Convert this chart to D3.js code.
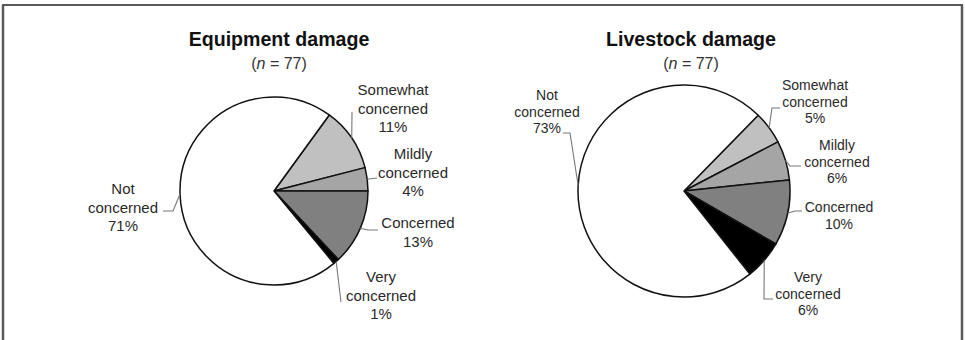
<!DOCTYPE html>
<html>
<head>
<meta charset="utf-8">
<script src="https://cdn.jsdelivr.net/npm/d3@7"></script>
<style>
  html, body { margin: 0; padding: 0; background: #fff; }
  svg { display: block; }
  text { font-family: "Liberation Sans", Arial, sans-serif; }
</style>
</head>
<body>
<svg id="chart" width="965" height="340"></svg>
<script>
// Concern levels, in clockwise drawing order
const categories = ["Somewhat concerned", "Mildly concerned", "Concerned", "Very concerned", "Not concerned"];
const labelLines = [["Somewhat", "concerned"], ["Mildly", "concerned"], ["Concerned"], ["Very", "concerned"], ["Not", "concerned"]];

// Percent of respondents per concern level
const equipmentValues = [11, 4, 13, 1, 71];
const livestockValues = [5, 6, 10, 6, 73];

const chartTitles = ["Equipment damage", "Livestock damage"];
const sampleSizes = [77, 77];

const fills = d3.scaleOrdinal()
  .domain(categories)
  .range(["#c0c0c0", "#a5a5a5", "#808080", "#000000", "#ffffff"]);

// Layout for each panel: centre, radius, rotation and label placement (offsets from the centre)
const panels = [
  {
    values: equipmentValues, cx: 274, cy: 191, r: 94, rotate: 36, font: 15, lh: 18.5,
    titleX: 279,
    labels: [
      { x: 119, y: -96, path: [[78, -79]] },
      { x: 139, y: -32, path: [[103, -13]] },
      { x: 144, y: 37, path: [[94, 39], [104, 39]] },
      { x: 107, y: 91, path: [[67, 111]] },
      { x: -151, y: 3, path: [[-101, 20], [-111, 20]] }
    ]
  },
  {
    values: livestockValues, cx: 684, cy: 191, r: 106, rotate: 44.4, font: 14, lh: 16.6,
    titleX: 691,
    labels: [
      { x: 131, y: -101, path: [[88, -83], [96, -83]] },
      { x: 153, y: -41, path: [[106, -25], [117, -25]] },
      { x: 155, y: 21, path: [[111, 20], [118, 20]] },
      { x: 124, y: 91, path: [[80, 108], [89, 108]] },
      { x: -137, y: -91, path: [[-114, -58], [-121, -58]] }
    ]
  }
];

const svg = d3.select("#chart");

// Frame
svg.append("line").attr("x1", 2).attr("x2", 963).attr("y1", 5).attr("y2", 5)
  .attr("stroke", "#222").attr("stroke-width", 1.5);
svg.append("line").attr("x1", 3).attr("x2", 3).attr("y1", 5).attr("y2", 340)
  .attr("stroke", "#5a5a5a").attr("stroke-width", 2.5);
svg.append("line").attr("x1", 962).attr("x2", 962).attr("y1", 5).attr("y2", 340)
  .attr("stroke", "#5a5a5a").attr("stroke-width", 2.5);

panels.forEach((p, i) => {
  const g = svg.append("g");

  // Titles
  g.append("text")
    .attr("x", p.titleX).attr("y", 46)
    .attr("text-anchor", "middle")
    .attr("font-size", 19.6).attr("font-weight", "bold").attr("fill", "#111")
    .text(chartTitles[i]);
  const sub = g.append("text")
    .attr("x", p.titleX).attr("y", 69)
    .attr("text-anchor", "middle")
    .attr("font-size", 16).attr("fill", "#333");
  sub.append("tspan").text("(");
  sub.append("tspan").attr("font-style", "italic").text("n");
  sub.append("tspan").text(" = " + sampleSizes[i] + ")");

  const rot = p.rotate * Math.PI / 180;
  const pie = d3.pie().sort(null).value(d => d.value)
    .startAngle(rot).endAngle(rot + 2 * Math.PI);
  const data = categories.map((c, k) => ({ cat: c, value: p.values[k], k }));
  const arcs = pie(data);
  const arc = d3.arc().innerRadius(0).outerRadius(p.r);

  const pg = g.append("g").attr("transform", `translate(${p.cx},${p.cy})`);

  pg.selectAll("path.slice").data(arcs).join("path")
    .attr("class", "slice")
    .attr("d", arc)
    .attr("fill", d => fills(d.data.cat))
    .attr("stroke", "#111")
    .attr("stroke-width", 1.5)
    .attr("stroke-linejoin", "round");

  // Leader lines from the slice edge (mid-angle) to the label
  pg.selectAll("path.leader").data(arcs).join("path")
    .attr("class", "leader")
    .attr("d", d => {
      const a = (d.startAngle + d.endAngle) / 2;
      const start = [p.r * Math.sin(a), -p.r * Math.cos(a)];
      return d3.line()([start, ...p.labels[d.index].path]);
    })
    .attr("fill", "none")
    .attr("stroke", "#777")
    .attr("stroke-width", 1.1);

  // Category labels with percentages
  arcs.forEach(d => {
    const L = p.labels[d.index];
    const lines = labelLines[d.index].concat([d.data.value + "%"]);
    const t = pg.append("text")
      .attr("text-anchor", "middle")
      .attr("font-size", p.font)
      .attr("fill", "#2a2a2a");
    lines.forEach((s, j) => {
      t.append("tspan").attr("x", L.x).attr("y", L.y + j * p.lh).text(s);
    });
  });
});
</script>
</body>
</html>
